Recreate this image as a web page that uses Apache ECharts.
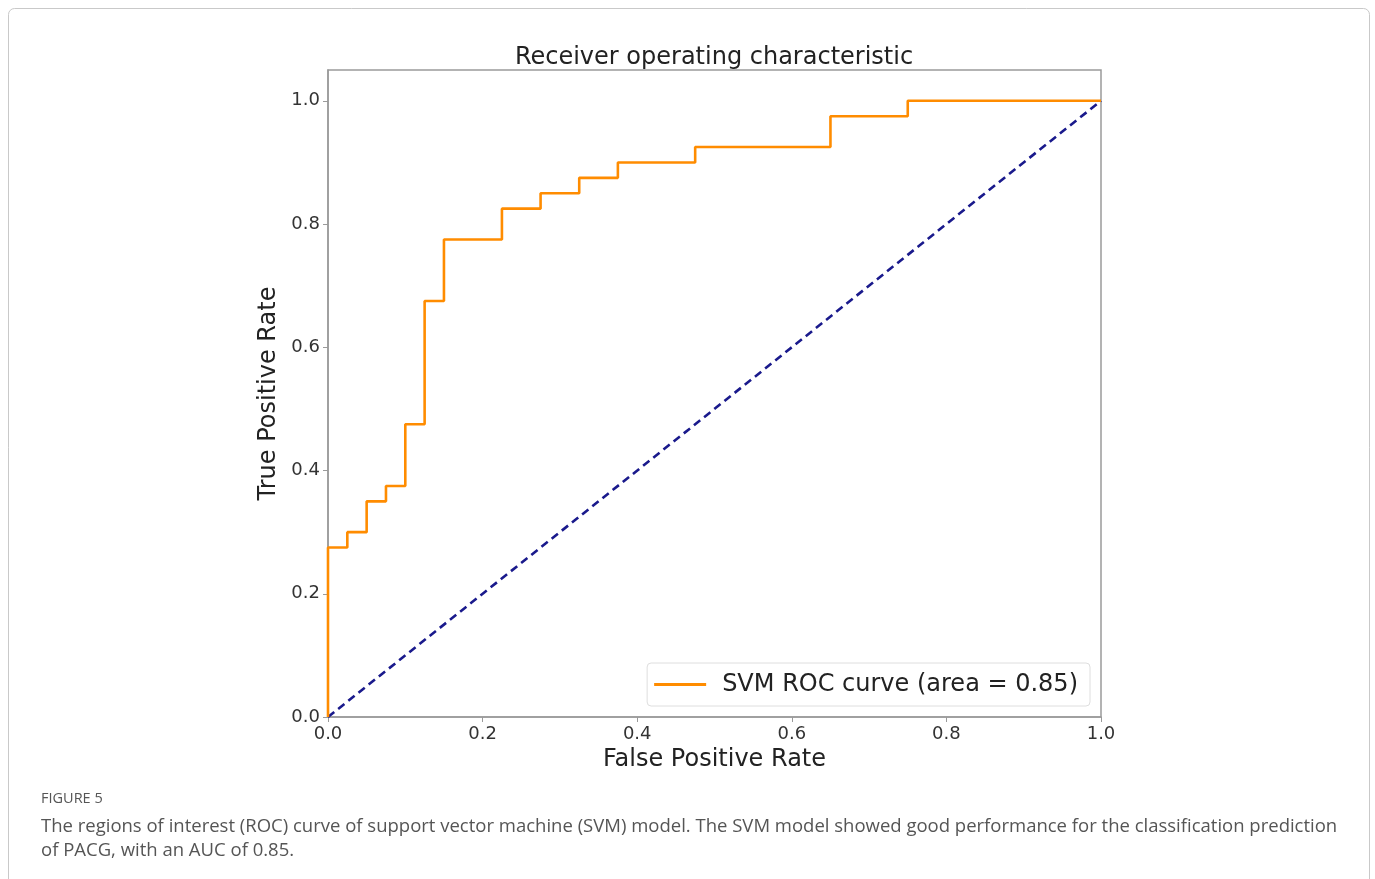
<!DOCTYPE html>
<html>
<head>
<meta charset="utf-8">
<script src="https://cdn.jsdelivr.net/npm/echarts@6/dist/echarts.min.js"></script>
<style>
html,body{margin:0;padding:0;background:#fff;}
#chart{width:1375px;height:879px;}
</style>
</head>
<body>
<div id="chart"></div>
<script>
// ROC curve points (false positive rate, true positive rate)
const fpr = [0, 0, 0.025, 0.025, 0.05, 0.05, 0.075, 0.075, 0.1, 0.1, 0.125, 0.125, 0.15, 0.15, 0.225, 0.225, 0.275, 0.275, 0.325, 0.325, 0.375, 0.375, 0.475, 0.475, 0.65, 0.65, 0.75, 0.75, 1.0];
const tpr = [0, 0.275, 0.275, 0.3, 0.3, 0.35, 0.35, 0.375, 0.375, 0.475, 0.475, 0.675, 0.675, 0.775, 0.775, 0.825, 0.825, 0.85, 0.85, 0.875, 0.875, 0.9, 0.9, 0.925, 0.925, 0.975, 0.975, 1.0, 1.0];
// chance diagonal
const diagX = [0, 1];
const diagY = [0, 1];
const xTicks = [0, 0.2, 0.4, 0.6, 0.8, 1.0];
const yTicks = [0, 0.2, 0.4, 0.6, 0.8, 1.0];
const seriesName = 'SVM ROC curve (area = 0.85)';
const titleText = 'Receiver operating characteristic';
const figLabel = 'FIGURE 5';
const captionLines = [
  'The regions of interest (ROC) curve of support vector machine (SVM) model. The SVM model showed good performance for the classification prediction',
  'of PACG, with an AUC of 0.85.'
];

const chart = echarts.init(document.getElementById('chart'));
const mpl = 'DejaVu Sans';
const fmt = v => {
  const ok = yTicks.some(t => Math.abs(t - v) < 1e-9) || xTicks.some(t => Math.abs(t - v) < 1e-9);
  return ok ? v.toFixed(1) : '';
};

chart.setOption({
  animation: false,
  backgroundColor: '#fff',
  title: {
    text: titleText,
    left: 709, textAlign: 'center', top: 41,
    textStyle: { fontFamily: mpl, fontSize: 24, fontWeight: 'normal', color: '#222' }
  },
  grid: {
    left: 328, top: 70, right: 274, bottom: 162,
    show: true, borderColor: '#9a9a9a', borderWidth: 1.5, backgroundColor: 'transparent'
  },
  legend: {
    data: [{ name: seriesName, icon: 'rect' }],
    right: 1375 - 1090, top: 663,
    orient: 'horizontal',
    padding: [7, 12, 7, 7],
    itemWidth: 52, itemHeight: 3, itemGap: 12,
    borderColor: '#dedede', borderWidth: 1, borderRadius: 4,
    backgroundColor: 'rgba(255,255,255,0.85)',
    textStyle: { fontFamily: mpl, fontSize: 24, color: '#222', padding: [3, 0, 0, 11], lineHeight: 26 }
  },
  xAxis: {
    type: 'value', min: 0, max: 1, interval: 0.2,
    name: 'False Positive Rate', nameLocation: 'middle', nameGap: 31,
    nameTextStyle: { fontFamily: mpl, fontSize: 24, color: '#222' },
    axisLine: { show: true, lineStyle: { color: '#9a9a9a', width: 1.5 } },
    axisTick: { show: true, length: 5, lineStyle: { color: '#9a9a9a' } },
    axisLabel: { fontFamily: mpl, fontSize: 18, color: '#333', margin: 8, formatter: fmt },
    splitLine: { show: false }
  },
  yAxis: {
    type: 'value', min: 0, max: 1.05, interval: 0.2,
    name: 'True Positive Rate', nameLocation: 'middle', nameGap: 45,
    nameTextStyle: { fontFamily: mpl, fontSize: 24, color: '#222' },
    axisLine: { show: true, lineStyle: { color: '#9a9a9a', width: 1.5 } },
    axisTick: { show: true, length: 5, lineStyle: { color: '#9a9a9a' } },
    axisLabel: { fontFamily: mpl, fontSize: 18, color: '#333', margin: 8, formatter: fmt, showMaxLabel: false },
    splitLine: { show: false }
  },
  series: [
    {
      name: seriesName, type: 'line', symbol: 'none',
      data: fpr.map((x, i) => [x, tpr[i]]),
      lineStyle: { color: '#ff8c00', width: 2.6 },
      itemStyle: { color: '#ff8c00' },
      z: 3
    },
    {
      name: 'chance', type: 'line', symbol: 'none',
      data: diagX.map((x, i) => [x, diagY[i]]),
      lineStyle: { color: '#1a1a8c', width: 2.6, type: [8, 5] },
      itemStyle: { color: '#1a1a8c' },
      z: 2
    }
  ],
  graphic: [
    {
      type: 'rect', shape: { x: 8.5, y: 8.5, width: 1361, height: 890, r: 6 },
      style: { fill: 'none', stroke: '#c9c9c9', lineWidth: 1 }, silent: true
    },
    {
      type: 'text', left: 41, top: 791,
      style: { text: figLabel, font: '14.5px "Open Sans"', fill: '#555' }
    },
    {
      type: 'text', left: 41, top: 814,
      style: { text: captionLines.join('\n'), font: '18.5px "Open Sans"', lineHeight: 24.5, fill: '#555' }
    }
  ]
});
</script>
</body>
</html>
